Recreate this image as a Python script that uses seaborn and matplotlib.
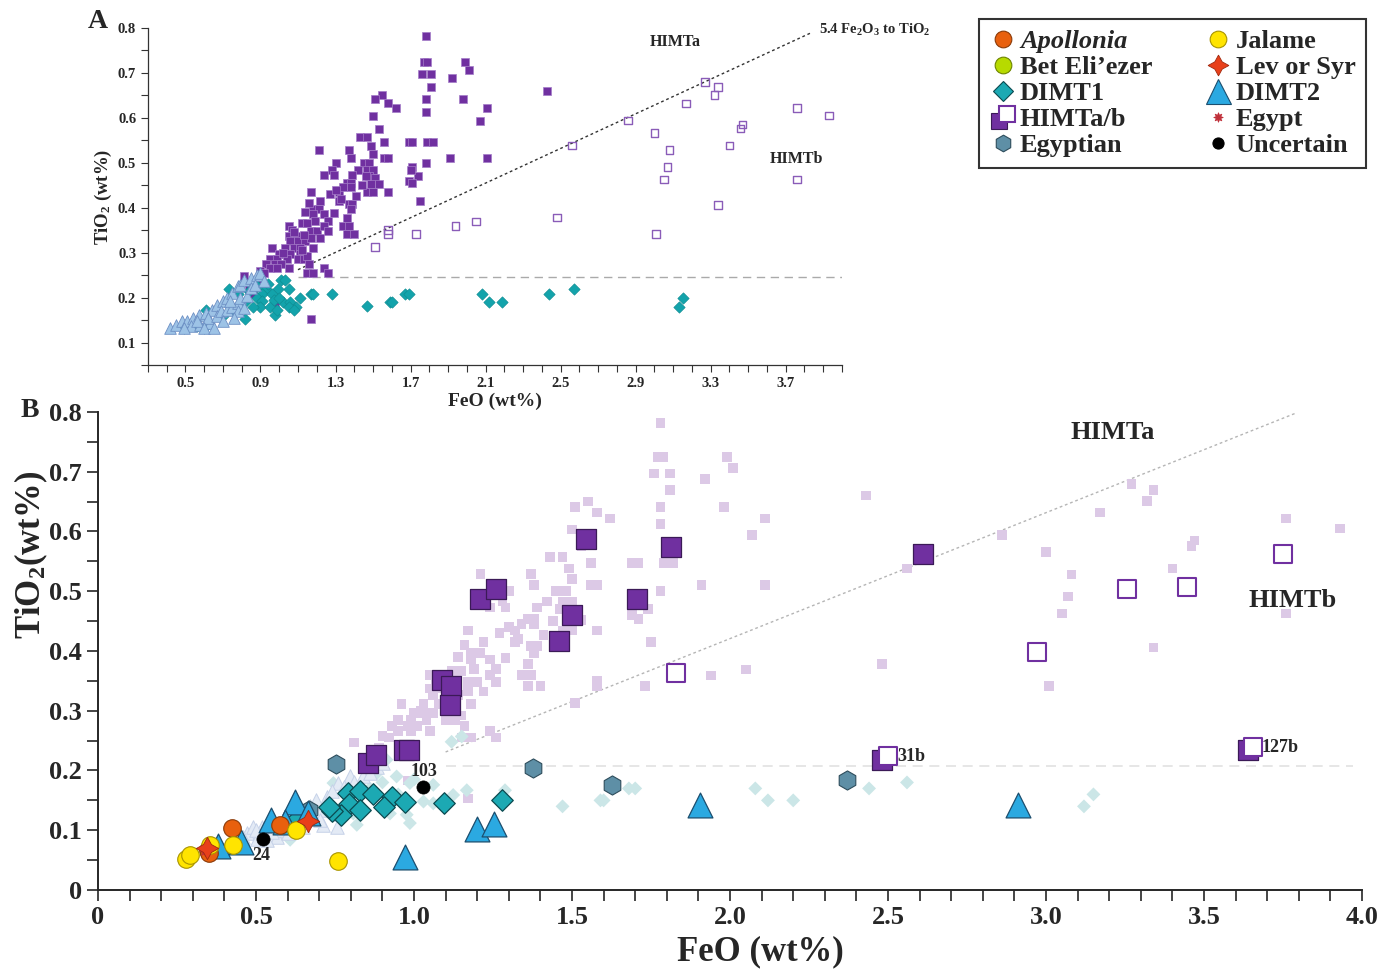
import numpy as np
import matplotlib
matplotlib.use('Agg')
import matplotlib.pyplot as plt
from matplotlib.lines import Line2D
from matplotlib.legend_handler import HandlerBase
import seaborn as sns

# ---- Panel A data (also the pale cloud of panel B for HIMT) ----
himta_a_x = [1.78, 1.77, 1.79, 1.76, 1.81, 1.81, 1.78, 1.78, 1.79, 1.82, 1.78, 1.75, 1.69, 1.71,
             1.71, 1.69, 1.74, 1.71, 1.70, 1.99, 2.01, 1.92, 1.98, 2.11, 2.07, 1.91, 2.11, 2.43,
             1.55, 1.51, 1.58, 1.62, 1.50, 1.53, 1.56, 1.43, 1.47, 1.49, 1.50, 1.56, 1.58, 1.45,
             1.48, 1.47, 1.50, 1.48, 1.51, 1.49, 1.53, 1.47, 1.50, 1.58,
             1.21, 1.30, 1.24, 1.28, 1.29, 1.37, 1.38, 1.42, 1.39, 1.36, 1.38, 1.32, 1.38, 1.17,
             1.32, 1.37, 1.39, 1.41, 1.22, 1.18, 1.21, 1.38, 1.18, 1.24, 1.29, 1.36, 1.34, 1.37,
             1.36, 1.40, 1.34, 1.33,
             1.05, 1.07, 1.12, 1.15, 1.05, 1.09, 1.17, 1.20, 1.26, 1.24, 1.26, 1.06, 1.10, 1.14,
             1.17, 1.22, 1.03, 1.08, 1.11, 1.18, 0.96, 1.00, 1.03, 1.06, 1.11, 0.95, 0.99, 1.04,
             0.93, 0.98, 1.01, 1.10, 1.13, 1.15, 0.95, 0.99, 1.05, 1.16, 1.15, 1.18, 1.24, 1.26,
             0.90, 0.92, 0.81, 0.89, 0.84, 0.86, 0.98, 1.17,
             1.08, 1.13, 1.02, 1.12, 1.19, 1.14, 1.16, 1.27, 1.30, 1.44, 1.46]
himta_a_y = [0.782, 0.725, 0.725, 0.697, 0.697, 0.669, 0.641, 0.613, 0.547, 0.547, 0.500, 0.415, 0.547, 0.547,
             0.490, 0.460, 0.470, 0.454, 0.483, 0.725, 0.706, 0.688, 0.641, 0.622, 0.594, 0.510, 0.510, 0.660,
             0.650, 0.641, 0.632, 0.622, 0.603, 0.576, 0.547, 0.557, 0.557, 0.538, 0.520, 0.510, 0.510, 0.500,
             0.500, 0.483, 0.483, 0.470, 0.465, 0.452, 0.452, 0.434, 0.434, 0.434,
             0.529, 0.500, 0.473, 0.483, 0.473, 0.529, 0.510, 0.483, 0.473, 0.454, 0.454, 0.434, 0.445, 0.434,
             0.415, 0.408, 0.408, 0.427, 0.415, 0.397, 0.397, 0.397, 0.386, 0.386, 0.388, 0.378, 0.360, 0.360,
             0.341, 0.341, 0.445, 0.420,
             0.360, 0.350, 0.367, 0.367, 0.337, 0.337, 0.348, 0.348, 0.370, 0.360, 0.348, 0.326, 0.326, 0.326,
             0.332, 0.332, 0.311, 0.311, 0.311, 0.311, 0.311, 0.296, 0.296, 0.296, 0.296, 0.285, 0.285, 0.285,
             0.274, 0.274, 0.274, 0.285, 0.285, 0.292, 0.266, 0.266, 0.266, 0.274, 0.255, 0.255, 0.266, 0.255,
             0.258, 0.255, 0.247, 0.238, 0.220, 0.208, 0.183, 0.153,
             0.345, 0.340, 0.300, 0.305, 0.370, 0.390, 0.410, 0.430, 0.440, 0.450, 0.470]

himtb_a_x = [1.51, 1.58, 1.58, 1.73, 1.94, 2.05, 2.48, 2.56, 2.86, 3.00, 3.08, 3.07, 3.05, 3.01,
             3.17, 3.27, 3.32, 3.34, 3.34, 3.40, 3.46, 3.47, 3.76, 3.76, 3.93]
himtb_a_y = [0.313, 0.350, 0.341, 0.341, 0.359, 0.369, 0.378, 0.538, 0.594, 0.566, 0.528, 0.491, 0.463, 0.341,
             0.632, 0.679, 0.651, 0.669, 0.406, 0.538, 0.576, 0.585, 0.622, 0.463, 0.605]

dimt1_a_x = [2.08, 2.12, 2.19, 2.44, 2.57, 3.13, 3.15, 1.17, 1.18, 1.28, 1.47, 1.59, 1.60, 1.67, 1.69,
             0.73, 0.61, 0.82, 0.98, 1.01, 1.03, 1.05, 0.995, 0.93, 0.91, 0.96, 0.88, 0.91, 1.02, 1.06,
             1.09, 1.11, 0.90, 0.95, 0.82, 0.78, 0.84, 0.99, 1.05, 0.86, 1.08, 0.49, 0.56, 0.60, 0.94,
             0.97, 0.88, 1.00, 0.76, 0.70]
dimt1_a_y = [0.209, 0.190, 0.190, 0.209, 0.218, 0.180, 0.200, 0.208, 0.208, 0.208, 0.181, 0.190, 0.190, 0.208, 0.208,
             0.220, 0.173, 0.153, 0.162, 0.238, 0.238, 0.220, 0.220, 0.220, 0.208, 0.208, 0.199, 0.192, 0.190, 0.190,
             0.180, 0.199, 0.180, 0.180, 0.190, 0.207, 0.214, 0.173, 0.180, 0.178, 0.173, 0.132, 0.136, 0.132, 0.230,
             0.195, 0.225, 0.200, 0.170, 0.160]

dimt2_a_x = [0.42, 0.45, 0.48, 0.51, 0.54, 0.57, 0.61, 0.64, 0.67, 0.70, 0.72, 0.75, 0.78, 0.79, 0.81,
             0.85, 0.88, 0.90, 0.53, 0.58, 0.63, 0.56, 0.62, 0.67, 0.69, 0.72, 0.75, 0.78, 0.74, 0.79,
             0.83, 0.85, 0.87, 0.92, 0.78, 0.81, 0.70, 0.49, 0.60, 0.65, 0.76]
dimt2_a_y = [0.132, 0.140, 0.147, 0.147, 0.154, 0.162, 0.166, 0.173, 0.184, 0.192, 0.199, 0.210, 0.225, 0.229, 0.240,
             0.244, 0.251, 0.255, 0.136, 0.140, 0.143, 0.147, 0.154, 0.158, 0.169, 0.173, 0.180, 0.188, 0.192, 0.199,
             0.203, 0.222, 0.229, 0.236, 0.169, 0.177, 0.147, 0.132, 0.132, 0.132, 0.154]

# reference lines (panel A): 5.4 Fe2O3/TiO2 line and TiO2 cut
ratio_a_x = [1.10, 3.84]
ratio_a_y = [0.262, 0.790]
cut_a_x = [1.10, 4.00]
cut_a_y = [0.246, 0.246]

# ---- Panel B pale cloud for DIMT1 / DIMT2 ----
dimt1_pale_x = [1.47, 1.59, 1.60, 1.68, 1.70, 2.08, 2.12, 2.20, 2.44, 2.56, 3.12, 3.15,
                1.167, 1.288, 1.124, 1.061, 1.03, 1.061, 0.987, 0.945, 0.913, 0.882, 0.745,
                0.819, 0.808, 0.608, 0.924, 0.977, 0.987, 1.151, 1.119, 0.86, 0.90, 0.95, 1.00]
dimt1_pale_y = [0.140, 0.150, 0.150, 0.170, 0.170, 0.170, 0.150, 0.150, 0.170, 0.180, 0.140, 0.160,
                0.167, 0.167, 0.159, 0.176, 0.148, 0.145, 0.179, 0.190, 0.218, 0.195, 0.179,
                0.109, 0.128, 0.084, 0.128, 0.126, 0.112, 0.257, 0.248, 0.170, 0.180, 0.160, 0.185]

dimt2_pale_x = [0.47, 0.49, 0.52, 0.65, 0.713, 0.755, 0.724, 0.76, 0.797, 0.84, 0.882, 0.903,
                0.787, 0.703, 0.703, 0.565, 0.502, 0.534, 0.46, 0.608, 0.755, 0.829, 0.58, 0.68,
                0.55, 0.62, 0.64, 0.67, 0.72, 0.74, 0.78, 0.81, 0.86, 0.69, 0.60, 0.50, 0.44]
dimt2_pale_y = [0.095, 0.106, 0.106, 0.106, 0.109, 0.106, 0.156, 0.179, 0.190, 0.190, 0.206, 0.212,
                0.139, 0.134, 0.117, 0.089, 0.086, 0.084, 0.089, 0.106, 0.128, 0.167, 0.100, 0.120,
                0.097, 0.112, 0.125, 0.140, 0.145, 0.165, 0.172, 0.180, 0.196, 0.150, 0.095, 0.100, 0.092]

# ---- Panel B highlighted samples ----
apollonia_x = [0.424, 0.576, 0.348, 0.352]
apollonia_y = [0.104, 0.109, 0.067, 0.062]
jalame_x = [0.278, 0.290, 0.354, 0.427, 0.627, 0.760]
jalame_y = [0.052, 0.058, 0.075, 0.075, 0.100, 0.049]
levsyr_x = [0.346, 0.666]
levsyr_y = [0.070, 0.115]
egypt_x = [0.34]
egypt_y = [0.066]
uncertain_x = [0.523, 1.027]
uncertain_y = [0.086, 0.172]
uncertain_lab = ['24', '103']
egyptian_x = [0.752, 1.378, 1.627, 2.370, 0.668]
egyptian_y = [0.211, 0.205, 0.176, 0.184, 0.134]
dimt1_b_x = [0.790, 0.829, 0.869, 0.929, 0.972, 0.906, 0.795, 0.829, 0.769, 0.740, 0.732, 1.096, 1.277, 0.634]
dimt1_b_y = [0.163, 0.166, 0.161, 0.156, 0.148, 0.139, 0.144, 0.134, 0.126, 0.133, 0.139, 0.145, 0.151, 0.120]
dimt2_b_x = [0.625, 0.547, 0.592, 0.666, 0.452, 0.381, 0.970, 1.198, 1.254, 1.905, 2.911]
dimt2_b_y = [0.148, 0.117, 0.113, 0.129, 0.081, 0.073, 0.056, 0.102, 0.110, 0.142, 0.142]
himta_b_x = [0.854, 0.880, 0.968, 0.984, 1.089, 1.117, 1.114, 1.209, 1.260, 1.544, 1.500, 1.459, 1.706, 1.813, 2.610, 2.480, 3.640]
himta_b_y = [0.213, 0.226, 0.234, 0.234, 0.351, 0.341, 0.310, 0.487, 0.504, 0.587, 0.460, 0.417, 0.487, 0.574, 0.562, 0.218, 0.234]
himtb_b_x = [1.829, 2.970, 3.256, 3.446, 3.750, 2.500, 3.655]
himtb_b_y = [0.363, 0.398, 0.504, 0.507, 0.562, 0.224, 0.239]
himtb_b_lab = ['', '', '', '', '', '31b', '127b']

ratio_b_x = [1.10, 3.79]
ratio_b_y = [0.231, 0.798]
cut_b_x = [1.10, 3.97]
cut_b_y = [0.208, 0.208]

# colours
PURPLE = '#7030A0'
PALE_PURPLE = '#DCC9E6'
TEAL = '#13A3AB'
PALE_TEAL = '#CBE6E7'
LBLUE = '#9DC3E6'
PALE_BLUE = '#E3EAF5'
BLUE = '#2BA9E1'

sns.set_style('ticks')
plt.rcParams['font.family'] = ['Liberation Serif', 'DejaVu Serif']
plt.rcParams['font.weight'] = 'bold'
plt.rcParams['axes.labelweight'] = 'bold'
plt.rcParams['mathtext.fontset'] = 'custom'
plt.rcParams['mathtext.rm'] = 'Liberation Serif:bold'
plt.rcParams['mathtext.it'] = 'Liberation Serif:italic:bold'
plt.rcParams['mathtext.bf'] = 'Liberation Serif:bold'
plt.rcParams['mathtext.default'] = 'rm'

fig = plt.figure(figsize=(13.8, 9.73), dpi=100)
axA = fig.add_axes([0.1072, 0.6249, 0.5029, 0.3464])
axB = fig.add_axes([0.0710, 0.0853, 0.9160, 0.4913])


def pts(ax, x, y, marker, s, fc, ec, lw=0.6, z=3, **kw):
    sns.scatterplot(x=x, y=y, marker=marker, s=s, color=fc, edgecolor=ec,
                    linewidth=lw, ax=ax, zorder=z, legend=False, clip_on=False, **kw)


def bold_ticks(ax):
    for t in ax.get_xticklabels() + ax.get_yticklabels():
        t.set_fontweight('bold')


# ---- PANEL A ----
axA.plot(ratio_a_x, ratio_a_y, color='#333333', lw=1.0, ls=(0, (2, 2)), zorder=2)
axA.plot(cut_a_x, cut_a_y, color='#AAAAAA', lw=1.0, ls=(0, (6, 4)), zorder=2)
pts(axA, himtb_a_x, himtb_a_y, 's', 30, 'none', '#8A5CB8', lw=1.0)
pts(axA, himta_a_x, himta_a_y, 's', 36, PURPLE, '#A47CC8', lw=0.5)
pts(axA, dimt1_a_x, dimt1_a_y, 'D', 34, TEAL, '#0F8A90', lw=0.4, z=4)
pts(axA, dimt2_a_x, dimt2_a_y, '^', 70, LBLUE, '#6C8FC4', lw=0.6, z=5)

axA.text(3.11, 0.769, 'HIMTa', ha='center', va='center', fontsize=11.5, fontweight='bold')
axA.text(3.76, 0.509, 'HIMTb', ha='center', va='center', fontsize=11.5, fontweight='bold')
axA.text(3.88, 0.796, '5.4 Fe$_2$O$_3$ to TiO$_2$', ha='left', va='center', fontsize=10.5, fontweight='bold')

axA.set_xlim(0.3, 4.0)
axA.set_ylim(0.05, 0.8)
axA.set_xticks(np.arange(0.5, 3.71, 0.4))
axA.set_xticks(np.arange(0.3, 4.01, 0.1), minor=True)
axA.set_yticks(np.arange(0.1, 0.81, 0.1))
axA.set_yticks(np.arange(0.05, 0.81, 0.05), minor=True)
axA.xaxis.set_major_formatter(matplotlib.ticker.FormatStrFormatter('%.1f'))
axA.yaxis.set_major_formatter(matplotlib.ticker.FormatStrFormatter('%.1f'))
axA.tick_params(which='both', direction='out', length=5, width=0.8, labelsize=10.5, color='#333333')
axA.set_xlabel('FeO (wt%)', fontsize=14, fontweight='bold', labelpad=2)
axA.set_ylabel('TiO$_2$ (wt%)', fontsize=13.5, fontweight='bold', labelpad=3)
for sp in ['top', 'right']:
    axA.spines[sp].set_visible(False)
for sp in ['left', 'bottom']:
    axA.spines[sp].set_linewidth(0.9)
    axA.spines[sp].set_color('#333333')

# ---- PANEL B ----
axB.plot(ratio_b_x, ratio_b_y, color='#B5B5B5', lw=1.0, ls=(0, (2, 2)), zorder=2)
axB.plot(cut_b_x, cut_b_y, color='#E2E2E2', lw=1.2, ls=(0, (6, 4)), zorder=2)
pts(axB, himta_a_x + himtb_a_x, himta_a_y + himtb_a_y, 's', 48, PALE_PURPLE, 'none', lw=0, z=2)
pts(axB, dimt1_pale_x, dimt1_pale_y, 'D', 50, PALE_TEAL, 'none', lw=0, z=2)
pts(axB, dimt2_pale_x, dimt2_pale_y, '^', 95, PALE_BLUE, '#C6D2E8', lw=0.7, z=2)

pts(axB, himta_b_x, himta_b_y, 's', 190, PURPLE, '#3B1A57', lw=0.9, z=4)
pts(axB, himtb_b_x, himtb_b_y, 's', 180, 'white', PURPLE, lw=1.5, z=5)
pts(axB, egyptian_x, egyptian_y, 'h', 190, '#5E8FA6', '#2E4D5C', lw=0.8, z=4)
pts(axB, dimt1_b_x, dimt1_b_y, 'D', 120, '#1CA9B3', '#0B4A50', lw=0.9, z=5)
pts(axB, dimt2_b_x, dimt2_b_y, '^', 320, BLUE, '#1C4E6E', lw=0.9, z=6)
pts(axB, apollonia_x, apollonia_y, 'o', 160, '#E8600E', '#8A3A08', lw=0.8, z=6)
pts(axB, jalame_x, jalame_y, 'o', 160, '#FFE400', '#A89400', lw=0.8, z=6)
pts(axB, egypt_x, egypt_y, (8, 1, 0), 60, '#C0303A', '#C0303A', lw=0.5, z=7)
pts(axB, levsyr_x, levsyr_y, (4, 1, 0), 260, '#E8401A', '#A02A10', lw=0.6, z=7)
pts(axB, uncertain_x, uncertain_y, 'o', 90, 'black', 'black', lw=0.5, z=7)

axB.text(uncertain_x[0] - 0.005, uncertain_y[0] - 0.028, uncertain_lab[0], ha='center', va='center',
         fontsize=13, fontweight='bold')
axB.text(uncertain_x[1] + 0.003, uncertain_y[1] + 0.027, uncertain_lab[1], ha='center', va='center',
         fontsize=13, fontweight='bold')
for xx, yy, lab in zip(himtb_b_x, himtb_b_y, himtb_b_lab):
    if lab:
        axB.text(xx + 0.028, yy, lab, ha='left', va='center', fontsize=13, fontweight='bold')

axB.text(3.21, 0.765, 'HIMTa', ha='center', va='center', fontsize=19, fontweight='bold')
axB.text(3.78, 0.485, 'HIMTb', ha='center', va='center', fontsize=19, fontweight='bold')

axB.set_xlim(0, 4.0)
axB.set_ylim(0, 0.8)
axB.set_xticks(np.arange(0, 4.01, 0.5))
axB.set_xticks(np.arange(0, 4.01, 0.1), minor=True)
axB.set_yticks(np.arange(0, 0.81, 0.1))
axB.set_yticks(np.arange(0, 0.81, 0.05), minor=True)
axB.set_xticklabels(['0'] + ['%.1f' % v for v in np.arange(0.5, 4.01, 0.5)])
axB.set_yticklabels(['0'] + ['%.1f' % v for v in np.arange(0.1, 0.81, 0.1)])
axB.tick_params(which='both', direction='out', length=8, width=1.2, labelsize=19)
axB.set_xlabel('FeO (wt%)', fontsize=25, fontweight='bold', labelpad=6)
axB.set_ylabel('TiO$_2$(wt%)', fontsize=25, fontweight='bold', labelpad=6)
axB.xaxis.set_label_coords(0.524, -0.095)
axB.yaxis.set_label_coords(-0.038, 0.70)
for sp in ['top', 'right']:
    axB.spines[sp].set_visible(False)
for sp in ['left', 'bottom']:
    axB.spines[sp].set_linewidth(1.4)

bold_ticks(axA)
bold_ticks(axB)

fig.text(98 / 1380, 1 - 22 / 973, 'A', fontsize=20, fontweight='bold', ha='center', va='center')
fig.text(30 / 1380, 1 - 410 / 973, 'B', fontsize=20, fontweight='bold', ha='center', va='center')


# ---- legend ----
class PairSquares:
    pass


class HandlerPairSquares(HandlerBase):
    def create_artists(self, legend, orig_handle, xdescent, ydescent, width, height, fontsize, trans):
        cx = 0.5 * width - xdescent
        cy = 0.5 * height - ydescent
        back = Line2D([cx - 3], [cy - 3], ls='none', marker='s', markersize=12,
                      markerfacecolor=PURPLE, markeredgecolor='#3B1A57', markeredgewidth=0.8,
                      transform=trans)
        front = Line2D([cx + 3], [cy + 2], ls='none', marker='s', markersize=12,
                       markerfacecolor='white', markeredgecolor=PURPLE, markeredgewidth=1.5,
                       transform=trans)
        return [back, front]


def mk(marker, fc, ec, ms, lw=0.8):
    return Line2D([], [], ls='none', marker=marker, markerfacecolor=fc,
                  markeredgecolor=ec, markersize=ms, markeredgewidth=lw)


handles = [
    mk('o', '#E8600E', '#8A3A08', 12),
    mk('o', '#B7DA00', '#6E8500', 12),
    mk('D', '#1CA9B3', '#0B4A50', 10),
    PairSquares(),
    mk('h', '#5E8FA6', '#2E4D5C', 12),
    mk('o', '#FFE400', '#A89400', 12),
    mk((4, 1, 0), '#E8401A', '#A02A10', 15, 0.6),
    mk('^', BLUE, '#1C4E6E', 18),
    mk((8, 1, 0), '#C0303A', '#C0303A', 7, 0.5),
    mk('o', 'black', 'black', 8),
]
labels = ['Apollonia', 'Bet Eli\u2019ezer', 'DIMT1', 'HIMTa/b', 'Egyptian',
          'Jalame', 'Lev or Syr', 'DIMT2', 'Egypt', 'Uncertain']
leg = fig.legend(handles, labels, ncol=2, loc='upper left',
                 bbox_to_anchor=(979 / 1380, 1 - 19 / 973),
                 prop={'size': 19, 'weight': 'bold'},
                 handler_map={PairSquares: HandlerPairSquares()},
                 handlelength=1.0, handletextpad=0.15, columnspacing=2.0,
                 labelspacing=0.1, borderpad=0.4, frameon=True, fancybox=False,
                 edgecolor='black', borderaxespad=0)
leg.get_frame().set_linewidth(1.5)
leg.get_texts()[0].set_fontstyle('italic')

fig.savefig('out.png', dpi=100)
